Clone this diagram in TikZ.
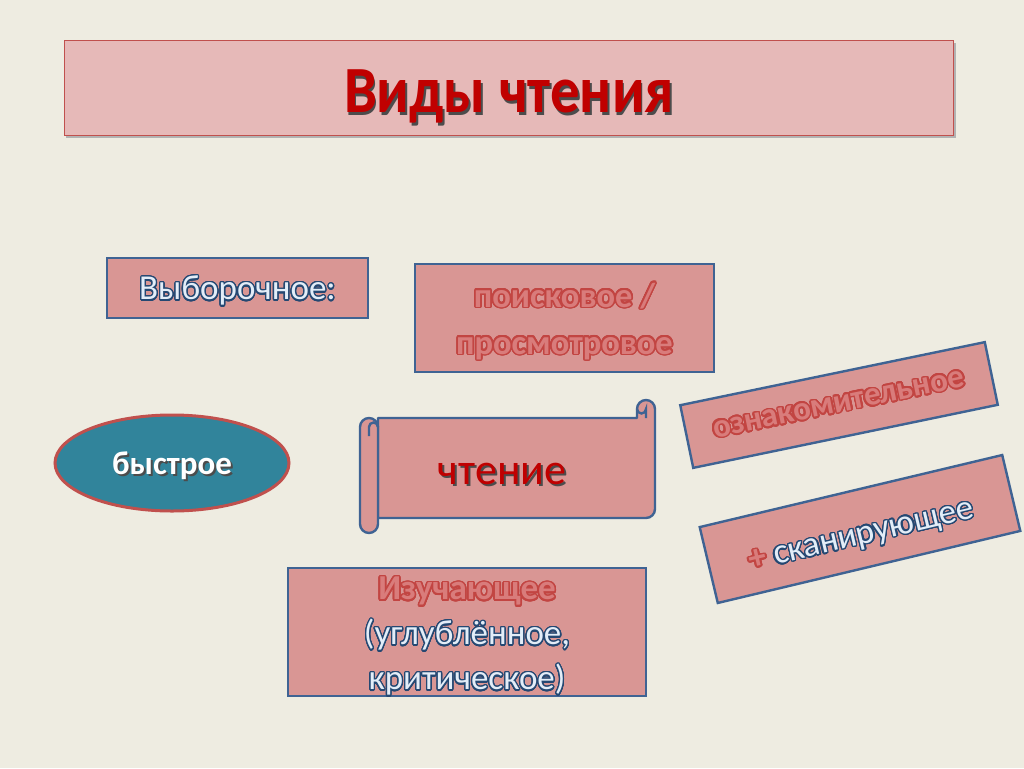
\documentclass[tikz,border=0pt]{standalone}
\usepackage{fontspec}
\setmainfont{Carlito}
\usepackage{contour}
\usetikzlibrary{shapes.geometric}

\definecolor{slidebg}{HTML}{EEECE1}
\definecolor{titlefill}{HTML}{E6B9B8}
\definecolor{boxfill}{HTML}{D99694}
\definecolor{boxline}{HTML}{3F6393}
\definecolor{redline}{HTML}{C0504D}
\definecolor{redrim}{HTML}{C24542}
\definecolor{redfill}{HTML}{D97C7B}
\definecolor{darkred}{HTML}{C00000}
\definecolor{fastfill}{HTML}{31849B}
\definecolor{palefill}{HTML}{E3EDF8}
\definecolor{paleline}{HTML}{254872}

\contournumber{24}

\newcommand{\palewords}[1]{\contourlength{1.3pt}\contour{paleline}{\textcolor{palefill}{#1}}}
\newcommand{\redwords}[1]{\contourlength{1.6pt}\contour{redrim}{\textcolor{redfill}{#1}}}
\newcommand{\shadowed}[2]{\makebox[0pt][l]{\hspace{2pt}\raisebox{-2pt}{\textcolor{black!70}{#2}}}\textcolor{#1}{#2}}

\tikzset{
  plainbox/.style={draw=boxline,fill=boxfill,line width=2.4pt,inner sep=0pt,align=center},
  scrollpart/.style={draw=boxline,fill=boxfill,line width=2.4pt,line join=round},
  scrollcurl/.style={draw=boxline,line width=2.4pt},
}

\begin{document}
\begin{tikzpicture}[x=1pt,y=-1pt]

\fill[slidebg] (0,0) rectangle (1024,768);

%title
\fill[black!30] (66,43) rectangle (956,138);
\node[draw=redline,fill=titlefill,line width=0.8pt,minimum width=889pt,minimum height=95pt](titlebox) at (508.5,87.5) {};
\node[font=\fontsize{60}{70}\selectfont\bfseries](title) at (509,98) {\scalebox{0.98}[1.1]{\shadowed{darkred}{Виды чтения}}};

%boxes
\node[plainbox,minimum width=261pt,minimum height=60pt,text depth=0pt,font=\fontsize{35}{40}\selectfont](selective) at (237.5,288) {\palewords{Выборочное:}};

\node[plainbox,minimum width=299pt,minimum height=108pt](search) at (564.5,318) {};
\node[font=\fontsize{34.5}{47}\selectfont\bfseries,align=center](searchtext) at (564.5,322) {\redwords{поисковое /}\\\redwords{просмотровое}};

\node[plainbox,rotate=11.7,minimum width=311pt,minimum height=64pt,font=\fontsize{33}{40}\selectfont\bfseries](intro) at (839,405) {\redwords{ознакомительное}};

\node[plainbox,rotate=13.4,minimum width=311pt,minimum height=78pt](scan) at (860,529) {};
\node[rotate=13.4,font=\fontsize{35}{40}\selectfont](scantext) at (862,538) {{\bfseries\redwords{+}} \palewords{сканирующее}};

\node[ellipse,draw=redline,fill=fastfill,line width=3pt,minimum width=234pt,minimum height=96pt](fast) at (172,463) {};
\node[font=\fontsize{33}{38}\selectfont\bfseries](fasttext) at (172,467) {\shadowed{white}{быстрое}};

%scroll
\filldraw[scrollpart] (378,418) -- (637,418) -- (637,409) arc(180:0:9pt) -- (655,509) arc(0:-90:9pt) -- (378,518) -- cycle;
\draw[scrollcurl] (646,418) -- (646,409) arc(0:-180:4.5pt);
\filldraw[scrollpart] (360,427) arc(180:0:9pt) -- (378,524) arc(0:-180:9pt) -- cycle;
\draw[scrollcurl] (369,436) -- (369,427) arc(180:0:4.5pt);
\node[font=\fontsize{44}{50}\selectfont](reading) at (502,475) {\shadowed{darkred}{чтение}};

\node[plainbox,minimum width=358pt,minimum height=128pt](study) at (467,632) {};
\node[font=\fontsize{35}{45}\selectfont,align=center](studytext) at (467,637) {{\bfseries\redwords{Изучающее}}\\\palewords{(углублённое,}\\\palewords{критическое)}};

\end{tikzpicture}
\end{document}
